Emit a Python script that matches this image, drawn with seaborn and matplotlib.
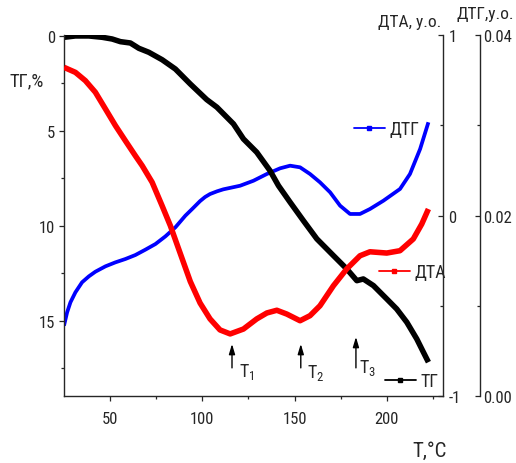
import matplotlib
matplotlib.use('Agg')
import matplotlib.pyplot as plt
import seaborn as sns
from matplotlib import font_manager as fm
from matplotlib.lines import Line2D
from matplotlib.ticker import FixedLocator, FuncFormatter

# ---------------- data ----------------
t_tg = [25.0, 31.2, 38.5, 45.7, 51.1, 55.6, 61.0, 65.6, 71.0, 78.2, 85.4, 93.5,
        102.4, 107.9, 116.9, 122.3, 129.5, 136.7, 141.3, 147.6, 154.8, 162.1,
        171.1, 178.3, 183.8, 187.3, 192.8, 200.0, 205.4, 210.9, 216.3, 219.9, 222.6]
tg = [0.07, 0.0, 0.0, 0.07, 0.16, 0.30, 0.37, 0.65, 0.86, 1.25, 1.74, 2.53,
      3.35, 3.75, 4.63, 5.42, 6.12, 7.09, 7.88, 8.75, 9.72, 10.68,
      11.56, 12.26, 12.88, 12.79, 13.14, 13.84, 14.37, 15.07, 15.95, 16.65, 17.17]

t_dta = [25.0, 31.2, 36.6, 42.0, 47.5, 52.9, 58.3, 63.7, 67.4, 72.8, 78.2, 82.7,
         87.2, 93.5, 98.8, 104.2, 109.6, 115.1, 122.3, 129.5, 135.0, 140.4, 145.8,
         153.0, 158.4, 163.8, 171.1, 178.3, 185.5, 190.9, 200.0, 207.2, 214.4,
         219.0, 222.6]
dta = [0.821, 0.793, 0.747, 0.683, 0.590, 0.498, 0.414, 0.331, 0.276, 0.184,
       0.054, -0.057, -0.186, -0.366, -0.485, -0.573, -0.634, -0.656, -0.629,
       -0.573, -0.540, -0.525, -0.546, -0.583, -0.555, -0.500, -0.389, -0.296,
       -0.223, -0.201, -0.208, -0.195, -0.130, -0.047, 0.036]

t_dtg = [25.0, 26.7, 28.5, 31.2, 34.8, 38.5, 42.0, 47.5, 52.9, 58.3, 63.7, 69.1,
         74.6, 80.0, 85.4, 90.8, 94.5, 98.8, 101.5, 104.2, 108.0, 111.4, 120.5,
         127.7, 135.0, 142.2, 147.6, 153.0, 158.4, 163.8, 169.3, 174.7, 180.1,
         185.5, 190.9, 198.2, 207.2, 212.6, 218.1, 222.6]
dtg = [0.00779, 0.00927, 0.01038, 0.01149, 0.01260, 0.01326, 0.01377, 0.01437,
       0.01481, 0.01518, 0.01562, 0.01621, 0.01684, 0.01769, 0.01869, 0.01998,
       0.02072, 0.02160, 0.02205, 0.02238, 0.02268, 0.02290, 0.02330, 0.02385,
       0.02460, 0.02523, 0.02552, 0.02534, 0.02460, 0.02368, 0.02257, 0.02109,
       0.02017, 0.02017, 0.02072, 0.02164, 0.02294, 0.02460, 0.02737, 0.03033]

x_ticks = [50, 100, 150, 200]
tg_ticks = [0, 5, 10, 15]
dta_ticks = [-1, 0, 1]
dtg_ticks = [0.00, 0.02, 0.04]

peak_names = [r'T$_1$', r'T$_2$', r'T$_3$']
peak_t = [116.1, 153.4, 183.3]

# ---------------- fonts ----------------
sns.set_style('ticks')
fonts = fm.fontManager.ttflist
names = {f.name for f in fonts}
family, stretch, narrow = 'Liberation Sans', 'normal', False
for pref in ['Liberation Sans Narrow', 'Arial Narrow', 'Roboto Condensed',
             'Open Sans Condensed', 'Noto Sans Condensed']:
    if pref in names:
        family, narrow = pref, True
        break
if not narrow:
    for f in fonts:
        if f.stretch in ('condensed', 'semi-condensed') and f.name in (
                'Noto Sans', 'Open Sans', 'Roboto', 'Liberation Sans'):
            family, stretch, narrow = f.name, f.stretch, True
            break
plt.rcParams['font.family'] = [family, 'Liberation Sans', 'DejaVu Sans']
plt.rcParams['font.stretch'] = stretch
plt.rcParams['mathtext.default'] = 'regular'
plt.rcParams['axes.unicode_minus'] = False

if narrow:
    fs_tick, fs_leg, fs_lab, fs_top, fs_T, fs_x = 12, 13, 13.5, 12.5, 13, 15
else:
    fs_tick, fs_leg, fs_lab, fs_top, fs_T, fs_x = 11, 11.5, 13, 11, 12, 14.5

fig = plt.figure(figsize=(5.16, 4.64), dpi=100)
ax = fig.add_axes([0.1240, 0.1444, 0.7345, 0.7780])
ax2 = ax.twinx()
ax3 = ax.twinx()
ax3.spines['right'].set_position(('axes', 1.0976))

for a in (ax, ax2, ax3):
    a.patch.set_visible(False)
    for s in a.spines.values():
        s.set_visible(False)
        s.set_linewidth(1.0)
ax.set_zorder(2)
ax2.set_zorder(3)
ax3.set_zorder(1)
ax.spines['left'].set_visible(True)
ax.spines['bottom'].set_visible(True)
ax2.spines['right'].set_visible(True)
ax3.spines['right'].set_visible(True)

# ---------------- curves ----------------
sns.lineplot(x=t_dtg, y=dtg, ax=ax3, color='#0000ff', linewidth=2.7,
             estimator=None, sort=False)
sns.lineplot(x=t_tg, y=tg, ax=ax, color='black', linewidth=4.0,
             estimator=None, sort=False)
sns.lineplot(x=t_dta, y=dta, ax=ax2, color='#ff0000', linewidth=4.0,
             estimator=None, sort=False)
for a in (ax, ax2, ax3):
    for ln in a.get_lines():
        ln.set_solid_joinstyle('round')
        ln.set_solid_capstyle('butt')

# ---------------- axes ----------------
ax.set_xlim(25, 230.5)
ax.set_ylim(18.95, -0.05)
ax2.set_ylim(-1, 1)
ax3.set_ylim(0, 0.04)

ax.xaxis.set_major_locator(FixedLocator(x_ticks))
ax.xaxis.set_minor_locator(FixedLocator([75, 125, 175, 225]))
ax.yaxis.set_major_locator(FixedLocator(tg_ticks))
ax.yaxis.set_minor_locator(FixedLocator([2.5, 7.5, 12.5, 17.5]))
ax2.yaxis.set_major_locator(FixedLocator(dta_ticks))
ax2.yaxis.set_minor_locator(FixedLocator([-0.5, 0.5]))
ax2.yaxis.set_major_formatter(FuncFormatter(lambda v, p: '%g' % v))
ax3.yaxis.set_major_locator(FixedLocator(dtg_ticks))
ax3.yaxis.set_minor_locator(FixedLocator([0.01, 0.03]))
ax3.yaxis.set_major_formatter(FuncFormatter(lambda v, p: '%.2f' % v))

ax.tick_params(axis='x', which='major', direction='out', length=3.6, width=0.9,
               pad=7, labelsize=fs_tick)
ax.tick_params(axis='y', which='major', direction='out', length=3.6, width=0.9,
               pad=3, labelsize=fs_tick)
ax.tick_params(which='minor', direction='out', length=2.2, width=0.9)
ax.tick_params(axis='y', which='both', right=False)
ax2.tick_params(axis='y', which='major', direction='in', length=3.6, width=0.9,
                pad=4, labelsize=fs_tick, left=False, right=True)
ax3.tick_params(axis='y', which='major', direction='in', length=3.6, width=0.9,
                pad=2, labelsize=fs_tick, left=False, right=True)
for a in (ax2, ax3):
    a.tick_params(axis='y', which='minor', direction='in', length=2.2, width=0.9,
                  left=False, right=True)
    a.set_ylabel('')
ax.set_xlabel('')
ax.set_ylabel('')

# axis titles
fig.text(27 / 516, 1 - 81 / 464, 'ТГ,%', fontsize=fs_lab, ha='center', va='center')
fig.text(410 / 516, 1 - 22 / 464, 'ДТА, у.о.', fontsize=fs_top, ha='center', va='center')
fig.text(514 / 516, 1 - 15 / 464, 'ДТГ,у.о.', fontsize=fs_top, ha='right', va='center')
fig.text(430 / 516, 1 - 451 / 464, 'T,°C', fontsize=fs_x, ha='center', va='center')

# peak arrows and labels
label_off = [3.8, 3.3, 1.5]
arrow_top = [16.21, 16.21, 15.84]
label_base = [17.9, 17.95, 17.7]
for name, t, off, top, base in zip(peak_names, peak_t, label_off, arrow_top, label_base):
    ax.annotate('', xy=(t, top), xytext=(t, 17.47),
                arrowprops=dict(arrowstyle='-|>,head_width=0.18,head_length=0.6',
                                color='black', lw=1.0, shrinkA=0, shrinkB=0))
    ax.text(t + off, base, name, fontsize=fs_T, ha='left', va='baseline')

# legends
def add_leg(a, color, label, x, y):
    h = Line2D([0], [0], color=color, lw=1.3, marker='s', markersize=3.2)
    return a.legend([h], [label], loc='center left',
                    bbox_to_anchor=(x / 516, 1 - y / 464), bbox_transform=fig.transFigure,
                    frameon=False, fontsize=fs_leg, handlelength=1.7, handletextpad=0.25,
                    borderpad=0, borderaxespad=0, numpoints=1)

add_leg(ax3, '#0000ff', 'ДТГ', 354, 130)
add_leg(ax2, '#ff0000', 'ДТА', 379, 273)
add_leg(ax, 'black', 'ТГ', 385, 382)

fig.savefig('out.png', dpi=100)
